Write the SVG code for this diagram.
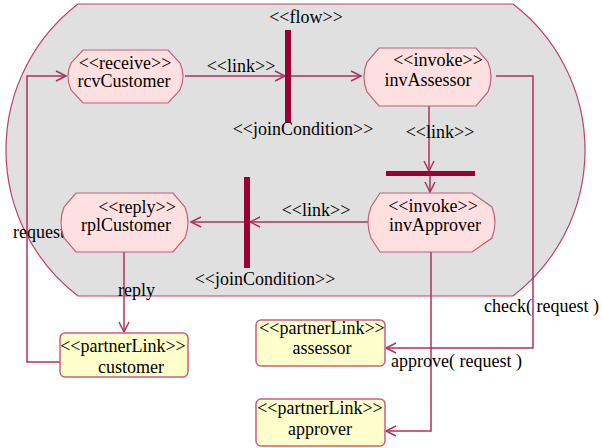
<svg xmlns="http://www.w3.org/2000/svg" width="602" height="448" viewBox="0 0 602 448">
<style>
text{font-family:"Liberation Serif","Times New Roman",serif;font-size:18px;fill:#000}
.c{text-anchor:middle}
.act{fill:#ffe0e0;stroke:#c0607a;stroke-width:1.2}
.pl{fill:#ffffcc;stroke:#c86080;stroke-width:1.5}
.ln{fill:none;stroke:#b03060;stroke-width:1.5}
.bar{fill:#990033}
</style>
<defs>
<marker id="ah" markerUnits="userSpaceOnUse" markerWidth="12" markerHeight="12" refX="10" refY="5" orient="auto" viewBox="0 0 12 10" overflow="visible">
<path d="M0,0 L10,5 L0,10" fill="none" stroke="#b03060" stroke-width="1.5"/>
</marker>
</defs>
<rect width="602" height="448" fill="#fff"/>
<g id="flow">
<path d="M78,4 H513 A184,184 0 0 1 513,296 H78 A184,184 0 0 1 78,4 Z" fill="#e0e0e0" stroke="#c0406a" stroke-width="1.2"/>
<text class="c" x="306" y="23">&lt;&lt;flow&gt;&gt;</text>
</g>
<g id="connectors">
<path class="ln" d="M185,76 H285" marker-end="url(#ah)"/>
<path class="ln" d="M291,76 H361" marker-end="url(#ah)"/>
<path class="ln" d="M429,106 V171" marker-end="url(#ah)"/>
<path class="ln" d="M430,176 V192" marker-end="url(#ah)"/>
<path class="ln" d="M368,222 H250" marker-end="url(#ah)"/>
<path class="ln" d="M244,222 H191" marker-end="url(#ah)"/>
<path class="ln" d="M124,252 V332" marker-end="url(#ah)"/>
<path class="ln" d="M60,362 H27 V76 H66" marker-end="url(#ah)"/>
<path class="ln" d="M496,76 H533 V348 H386" marker-end="url(#ah)"/>
<path class="ln" d="M431,252 V431 H386" marker-end="url(#ah)"/>
<text class="c" x="241" y="72">&lt;&lt;link&gt;&gt;</text>
<text class="c" x="440" y="138">&lt;&lt;link&gt;&gt;</text>
<text class="c" x="316" y="216">&lt;&lt;link&gt;&gt;</text>
<text x="13" y="238">request</text>
<text x="118" y="296">reply</text>
<text x="484" y="312">check( request )</text>
<text x="391" y="367">approve( request )</text>
</g>
<g id="join1">
<rect class="bar" x="285" y="30" width="6" height="93"/>
<text class="c" x="303" y="135">&lt;&lt;joinCondition&gt;&gt;</text>
</g>
<g id="join2">
<rect class="bar" x="386" y="171" width="89" height="5"/>
</g>
<g id="join3">
<rect class="bar" x="244" y="177" width="6" height="91"/>
<text class="c" x="265" y="285">&lt;&lt;joinCondition&gt;&gt;</text>
</g>
<g id="rcvCustomer">
<path class="act" d="M83,50 H168 L180,63 Q186,76.5 180,90 L168,103 H83 L71,90 Q65,76.5 71,63 Z"/>
<text class="c" x="125" y="69">&lt;&lt;receive&gt;&gt;</text>
<text class="c" x="124" y="87">rcvCustomer</text>
</g>
<g id="invAssessor">
<path class="act" d="M379,48 H476 L488,62 Q494,77 488,92 L476,106 H379 L367,92 Q361,77 367,62 Z"/>
<text class="c" x="438" y="66">&lt;&lt;invoke&gt;&gt;</text>
<text class="c" x="428" y="86">invAssessor</text>
</g>
<g id="invApprover">
<path class="act" d="M380,193 H472 L492,207 Q498,222.5 492,238 L472,252 H380 L371,238 Q365,222.5 371,207 Z"/>
<text class="c" x="433" y="212">&lt;&lt;invoke&gt;&gt;</text>
<text class="c" x="435" y="231">invApprover</text>
</g>
<g id="rplCustomer">
<path class="act" d="M76,193 H173 L185,207 Q191,222.5 185,238 L173,252 H76 L64,238 Q58,222.5 64,207 Z"/>
<text class="c" x="137" y="213">&lt;&lt;reply&gt;&gt;</text>
<text class="c" x="126" y="231">rplCustomer</text>
</g>
<g id="customer">
<rect class="pl" x="60" y="333" width="128" height="44" rx="5"/>
<text class="c" x="123" y="352">&lt;&lt;partnerLink&gt;&gt;</text>
<text class="c" x="131" y="373">customer</text>
</g>
<g id="assessor">
<rect class="pl" x="256" y="320" width="129" height="46" rx="5"/>
<text class="c" x="322" y="334">&lt;&lt;partnerLink&gt;&gt;</text>
<text class="c" x="322" y="354">assessor</text>
</g>
<g id="approver">
<rect class="pl" x="256" y="399" width="129" height="47" rx="5"/>
<text class="c" x="320" y="414">&lt;&lt;partnerLink&gt;&gt;</text>
<text class="c" x="320" y="435">approver</text>
</g>
</svg>
